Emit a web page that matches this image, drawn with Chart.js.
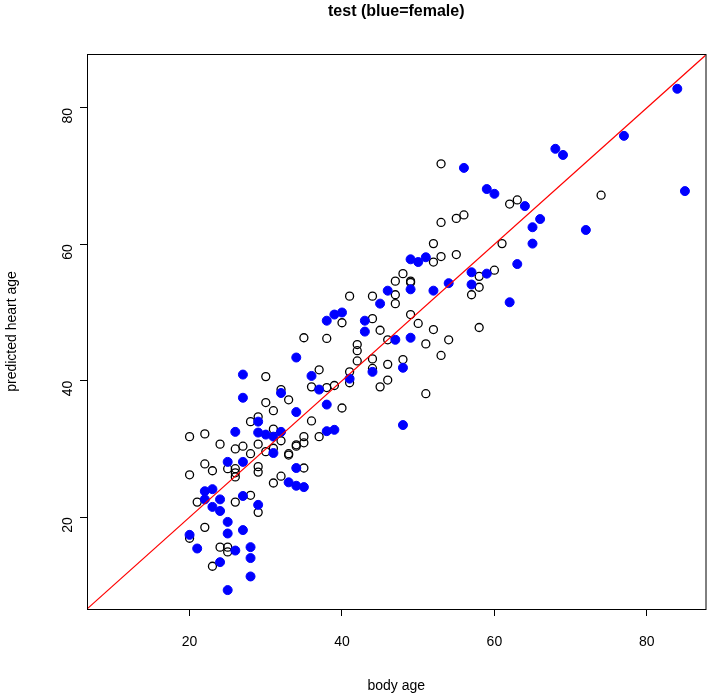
<!DOCTYPE html>
<html><head><meta charset="utf-8">
<script src="https://cdn.jsdelivr.net/npm/chart.js@4"></script>
<style>html,body{margin:0;padding:0;background:#fff}#w{width:711px;height:699px}</style>
</head><body><div id="w"><canvas id="c"></canvas></div>
<script>
const femaleAge=[84,85,77,68,69,56,59,60,64,66,65,65,72,63,62,57,57,59,54,52,49,49,50,51,49,48,48,46,45,40,39,38,43,43,47,34,44,41,36,37,32,38,34,27,27,29,26,29,30,31,32,31,38,39,25,27,34,33,34,35,22,23,22,24,23,24,27,29,25,25,27,20,21,26,28,28,24,28,25];
const femaleHeart=[82.8,67.8,75.9,74.0,73.1,71.2,68.1,67.4,65.6,63.7,62.5,60.1,62.1,57.1,51.5,55.9,54.1,55.7,54.3,53.2,53.4,57.8,57.4,58.1,46.3,41.9,33.5,53.2,51.3,50.0,49.7,48.8,48.8,47.2,46.0,43.4,41.3,40.3,40.7,38.7,38.2,36.5,35.4,40.9,37.5,34.0,32.5,32.4,32.1,31.8,32.5,29.4,32.6,32.8,28.1,28.1,27.2,25.1,24.6,24.4,23.8,24.1,22.6,22.6,21.5,20.9,23.1,21.8,19.3,17.6,18.1,17.4,15.4,15.1,15.6,14.0,13.4,11.3,9.3];
const maleAge=[53,74,62,63,55,56,53,52,53,52,55,61,48,49,60,58,58,57,49,50,52,51,54,53,58,48,51,41,44,47,47,47,49,40,44,38,35,45,46,42,42,42,44,46,37,41,41,44,46,45,30,36,38,39,32,33,30,31,40,36,29,28,31,29,28,30,33,34,35,35,37,29,29,31,32,35,28,20,22,24,26,27,31,32,34,33,22,23,25,26,26,26,20,26,21,29,22,20,24,25,25,23];
const maleHeart=[71.8,67.2,65.9,66.5,63.8,64.3,63.2,60.1,58.2,57.4,58.5,60.1,55.7,54.6,56.2,55.3,53.7,52.6,49.7,48.4,47.5,45.4,46.0,43.7,47.8,43.1,38.1,52.4,52.4,52.6,51.3,54.6,54.4,48.5,49.1,46.2,46.3,47.4,46.0,45.3,44.4,42.9,43.2,42.4,41.6,41.3,39.7,41.8,40.1,39.1,40.6,39.1,39.0,39.3,38.7,37.2,36.8,35.6,36.0,34.1,34.7,34.0,32.9,30.7,29.3,29.6,29.3,30.6,31.8,30.9,31.8,27.4,26.6,25.0,26.0,27.2,23.2,31.8,32.2,30.7,30.0,30.4,30.1,31.2,30.4,29.1,27.8,26.8,27.1,27.1,26.5,25.9,26.2,22.2,22.2,20.7,18.5,16.9,15.6,15.6,14.9,12.8];
const ticks=[20,40,60,80];
const lineEnds=[0,100];

const pts=(a,b)=>a.map((v,i)=>({x:v,y:b[i]}));
const font={family:'"Liberation Sans", Arial, sans-serif',size:14};
const box={id:'box',afterDraw(c){const a=c.chartArea,x=c.ctx;x.save();x.strokeStyle='#000';x.lineWidth=1;x.strokeRect(a.left+0.5,a.top+0.5,a.right-a.left,a.bottom-a.top);
x.font='bold 16px "Liberation Sans", Arial, sans-serif';x.fillStyle='#000';x.textAlign='center';x.textBaseline='middle';x.fillText('test (blue=female)',(a.left+a.right)/2,12);x.restore();}};
new Chart(document.getElementById('c'),{
 type:'scatter',
 data:{datasets:[
  {data:lineEnds.map(v=>({x:v,y:v})),type:'line',showLine:true,borderColor:'#ff0000',borderWidth:1.2,pointRadius:0,order:0},
  {data:pts(maleAge,maleHeart),pointStyle:'circle',pointRadius:4,borderWidth:1.3,borderColor:'#000',backgroundColor:'rgba(0,0,0,0)',order:2},
  {data:pts(femaleAge,femaleHeart),pointStyle:'circle',pointRadius:4.5,borderWidth:1,borderColor:'#0000ff',backgroundColor:'#0000ff',order:1}
 ]},
 options:{responsive:true,maintainAspectRatio:false,animation:false,
  layout:{padding:{top:54,right:3,left:0,bottom:0}},
  plugins:{legend:{display:false},tooltip:{enabled:false}},
  scales:{
   x:{type:'linear',min:6.54,max:87.7,afterBuildTicks(s){s.ticks=ticks.map(v=>({value:v}));},afterFit(s){s.height=90;},
     grid:{drawOnChartArea:false,drawTicks:true,tickLength:7,color:'#000'},border:{display:false},
     ticks:{font,color:'#000',padding:18,maxRotation:0},
     title:{display:true,text:'body age',font,color:'#000',padding:{top:24}}},
   y:{type:'linear',min:6.53,max:87.9,afterBuildTicks(s){s.ticks=ticks.map(v=>({value:v}));},afterFit(s){s.width=87;},
     grid:{drawOnChartArea:false,drawTicks:true,tickLength:7,color:'#000'},border:{display:false},
     ticks:{font,color:'#000',padding:12,minRotation:90,maxRotation:90},
     title:{display:true,text:'predicted heart age',font,color:'#000',padding:{bottom:14}}}
  }},
 plugins:[box]
});
</script></body></html>
